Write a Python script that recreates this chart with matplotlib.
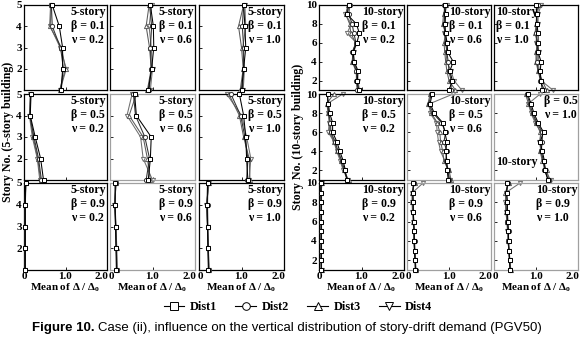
import matplotlib
matplotlib.use("Agg")
import matplotlib.pyplot as plt
import matplotlib.transforms as mtransforms
from matplotlib.lines import Line2D

plt.rcParams['font.family'] = ['Liberation Serif', 'DejaVu Serif']
plt.rcParams['font.weight'] = 'bold'
plt.rcParams['mathtext.fontset'] = 'custom'
plt.rcParams['mathtext.rm'] = 'Liberation Serif:bold'
plt.rcParams['mathtext.it'] = 'Liberation Serif:bold'

# ---------------- data ----------------
series_names = ["Dist1", "Dist2", "Dist3", "Dist4"]
stories5 = [1, 2, 3, 4, 5]
stories10 = [1, 2, 3, 4, 5, 6, 7, 8, 9, 10]
x_ticks = [0, 1.0, 2.0]
x_tick_labels = ["0", "1.0", "2.0"]
y_ticks5 = [2, 3, 4, 5]
y_ticks10 = [2, 4, 6, 8, 10]
betas = ["0.1", "0.5", "0.9"]
nus = ["0.2", "0.6", "1.0"]

# 5-story building: rows = beta, cols = nu; each is [Dist1, Dist2, Dist3, Dist4] by story 1..5
s5_b01_v02 = [[0.90, 0.93, 0.93, 0.85, 0.68], [0.88, 0.95, 0.88, 0.68, 0.66],
              [0.86, 1.00, 0.90, 0.62, 0.64], [0.87, 1.02, 0.87, 0.63, 0.66]]
s5_b01_v06 = [[0.90, 0.98, 1.03, 1.02, 0.95], [0.92, 0.97, 0.95, 0.98, 0.93],
              [0.88, 0.97, 0.93, 0.85, 0.92], [0.95, 1.00, 0.97, 0.92, 0.98]]
s5_b01_v10 = [[1.00, 1.05, 1.10, 1.08, 1.05], [1.02, 1.05, 1.05, 1.02, 1.05],
              [0.97, 1.04, 1.00, 0.93, 1.05], [1.04, 1.07, 1.03, 1.10, 1.08]]
s5_b05_v02 = [[0.47, 0.40, 0.27, 0.15, 0.17], [0.42, 0.35, 0.24, 0.14, 0.16],
              [0.40, 0.33, 0.22, 0.14, 0.16], [0.38, 0.32, 0.20, 0.13, 0.15]]
s5_b05_v06 = [[0.90, 0.95, 0.97, 0.62, 0.58], [0.85, 0.93, 0.82, 0.60, 0.55],
              [0.95, 0.88, 0.78, 0.45, 0.62], [1.00, 0.78, 0.72, 0.40, 0.52]]
s5_b05_v10 = [[1.15, 1.12, 1.10, 1.05, 0.95], [1.12, 1.15, 1.08, 0.98, 0.75],
              [1.20, 1.18, 1.05, 0.95, 0.70], [1.18, 1.22, 1.12, 1.00, 0.65]]
s5_b09_v02 = [[0.03, 0.03, 0.03, 0.03, 0.04], [0.03, 0.03, 0.03, 0.03, 0.04],
              [0.03, 0.03, 0.03, 0.03, 0.04], [0.03, 0.03, 0.03, 0.03, 0.05]]
s5_b09_v06 = [[0.15, 0.14, 0.13, 0.12, 0.12], [0.16, 0.15, 0.14, 0.12, 0.13],
              [0.17, 0.16, 0.14, 0.11, 0.14], [0.16, 0.15, 0.13, 0.10, 0.15]]
s5_b09_v10 = [[0.22, 0.21, 0.20, 0.19, 0.20], [0.23, 0.22, 0.21, 0.20, 0.21],
              [0.24, 0.22, 0.20, 0.18, 0.23], [0.23, 0.21, 0.20, 0.17, 0.24]]

# 10-story building: [Dist1, Dist2, Dist3, Dist4] by story 1..10
s10_b01_v02 = [[0.93, 0.90, 0.92, 0.83, 0.80, 0.89, 0.95, 0.88, 0.66, 0.70],
               [0.90, 0.88, 0.88, 0.80, 0.78, 0.87, 0.82, 0.78, 0.70, 0.72],
               [0.92, 0.90, 0.87, 0.78, 0.80, 0.86, 0.75, 0.72, 0.63, 0.68],
               [0.95, 0.92, 0.90, 0.82, 0.82, 0.88, 0.66, 0.76, 0.62, 0.70]]
s10_b01_v06 = [[1.00, 1.08, 1.02, 1.10, 0.97, 0.95, 0.92, 0.90, 0.92, 0.90],
               [1.05, 1.05, 1.00, 0.98, 0.95, 0.92, 0.90, 0.88, 0.90, 0.88],
               [1.15, 1.00, 0.95, 0.92, 0.90, 0.88, 0.92, 0.85, 0.87, 0.92],
               [1.30, 1.12, 1.05, 0.95, 0.93, 0.97, 0.88, 0.92, 0.90, 0.95]]
s10_b01_v10 = [[1.15, 1.12, 1.10, 1.12, 1.05, 1.05, 1.05, 1.02, 1.02, 1.00],
               [1.20, 1.10, 1.06, 1.02, 1.03, 1.02, 1.00, 1.03, 1.00, 1.05],
               [1.25, 1.15, 1.05, 1.00, 1.00, 1.04, 0.98, 1.00, 1.02, 1.08],
               [1.40, 1.12, 1.08, 1.05, 1.07, 1.00, 1.02, 1.05, 1.05, 1.12]]
s10_b05_v02 = [[0.65, 0.62, 0.57, 0.49, 0.42, 0.32, 0.32, 0.25, 0.22, 0.20],
               [0.67, 0.60, 0.54, 0.45, 0.38, 0.28, 0.27, 0.23, 0.20, 0.20],
               [0.70, 0.58, 0.52, 0.43, 0.36, 0.25, 0.25, 0.22, 0.18, 0.35],
               [0.68, 0.57, 0.50, 0.42, 0.35, 0.22, 0.24, 0.22, 0.20, 0.56]]
s10_b05_v06 = [[0.98, 0.96, 0.95, 0.92, 0.95, 0.90, 0.85, 0.65, 0.55, 0.60],
               [1.00, 0.98, 0.92, 0.95, 0.88, 0.92, 0.82, 0.62, 0.52, 0.58],
               [1.05, 1.00, 0.88, 0.85, 0.80, 0.78, 0.72, 0.58, 0.50, 0.55],
               [1.02, 0.97, 0.90, 0.80, 0.75, 0.72, 0.70, 0.55, 0.55, 1.10]]
s10_b05_v10 = [[1.28, 1.22, 1.20, 1.15, 1.10, 1.18, 1.05, 0.95, 0.88, 0.80],
               [1.30, 1.20, 1.18, 1.12, 1.15, 1.15, 1.02, 0.92, 0.85, 0.78],
               [1.32, 1.25, 1.15, 1.10, 1.12, 1.10, 1.00, 0.90, 0.82, 0.75],
               [1.35, 1.22, 1.16, 1.12, 1.08, 1.12, 0.98, 0.88, 0.82, 1.10]]
s10_b09_v02 = [[0.05, 0.05, 0.05, 0.05, 0.05, 0.05, 0.05, 0.05, 0.04, 0.04],
               [0.05, 0.05, 0.05, 0.05, 0.05, 0.05, 0.05, 0.05, 0.05, 0.05],
               [0.06, 0.05, 0.05, 0.05, 0.05, 0.05, 0.05, 0.05, 0.05, 0.06],
               [0.06, 0.05, 0.05, 0.05, 0.05, 0.05, 0.05, 0.05, 0.05, 0.07]]
s10_b09_v06 = [[0.20, 0.19, 0.18, 0.17, 0.17, 0.16, 0.15, 0.15, 0.14, 0.15],
               [0.21, 0.20, 0.19, 0.18, 0.17, 0.16, 0.15, 0.14, 0.14, 0.16],
               [0.21, 0.20, 0.18, 0.16, 0.17, 0.15, 0.14, 0.13, 0.12, 0.18],
               [0.20, 0.19, 0.18, 0.17, 0.16, 0.15, 0.13, 0.12, 0.13, 0.38]]
s10_b09_v10 = [[0.38, 0.37, 0.36, 0.35, 0.34, 0.33, 0.32, 0.32, 0.30, 0.32],
               [0.39, 0.37, 0.35, 0.34, 0.35, 0.32, 0.30, 0.31, 0.30, 0.33],
               [0.40, 0.38, 0.36, 0.33, 0.33, 0.31, 0.29, 0.28, 0.27, 0.35],
               [0.39, 0.37, 0.35, 0.34, 0.32, 0.31, 0.28, 0.27, 0.28, 0.62]]

grid5 = [[s5_b01_v02, s5_b01_v06, s5_b01_v10],
         [s5_b05_v02, s5_b05_v06, s5_b05_v10],
         [s5_b09_v02, s5_b09_v06, s5_b09_v10]]
grid10 = [[s10_b01_v02, s10_b01_v06, s10_b01_v10],
          [s10_b05_v02, s10_b05_v06, s10_b05_v10],
          [s10_b09_v02, s10_b09_v06, s10_b09_v10]]

# ---------------- styling ----------------
markers = ['s', 'o', '^', 'v']
colors = ['#000000', '#303030', '#5a5a5a', '#6e6e6e']
W, H = 582, 341
fig = plt.figure(figsize=(W / 100, H / 100), dpi=100)

left_cols = [(24, 107), (110, 195), (199, 284)]
right_cols = [(319, 404), (407, 491), (494, 578)]
rows = [(5, 90), (94, 180), (183, 270)]
FS_TICK = 8.0
FS_ANN = 8.6
FS_LAB = 8.0

gray_left = {(1, 1), (2, 1)}
gray_right = {(1, 1), (1, 2), (2, 1), (2, 2)}
shift_left = mtransforms.ScaledTranslation(-6 / 100, 0, fig.dpi_scale_trans)
shift_right = mtransforms.ScaledTranslation(1.5 / 100, 0, fig.dpi_scale_trans)


def make_ax(cx, ry):
    x0, x1 = cx
    y0, y1 = ry
    return fig.add_axes([x0 / W, 1 - y1 / H, (x1 - x0) / W, (y1 - y0) / H])


def style(ax, r, c, stories, yticks, gray):
    ax.set_xlim(0, 2.0)
    ax.set_ylim(1, stories[-1])
    ax.set_xticks(x_ticks)
    ax.set_yticks(yticks)
    ax.tick_params(direction='in', length=2.5, width=0.6, labelsize=FS_TICK, pad=1.5,
                   top=False, right=False)
    if r == 2:
        ax.set_xticklabels(x_tick_labels)
        ticks = ax.xaxis.get_major_ticks()
        lab = ticks[2].label1
        lab.set_transform(lab.get_transform() + shift_left)
        if c > 0:
            lab0 = ticks[0].label1
            lab0.set_transform(lab0.get_transform() + shift_right)
        ax.set_xlabel("Mean of \u0394 / \u0394$_\\mathregular{o}$", fontsize=FS_LAB,
                      fontweight='bold', labelpad=0.5)
    else:
        ax.set_xticklabels([])
    if c == 0:
        ax.set_yticklabels([str(t) for t in yticks])
    else:
        ax.set_yticklabels([])
    for sp in ax.spines.values():
        sp.set_linewidth(0.9)
        sp.set_color('#a0a0a0' if gray else 'black')


def draw(ax, data, stories):
    for k in range(4):
        ax.plot(data[k], stories, color=colors[k], lw=0.75, marker=markers[k],
                ms=3.0, mfc='white', mec=colors[k], mew=0.7, zorder=5 - k,
                clip_on=False)


def ann(ax, x, y, s, ha='right', va='top'):
    ax.text(x, y, s, transform=ax.transAxes, ha=ha, va=va, multialignment='left',
            fontsize=FS_ANN, fontweight='bold', linespacing=1.2, zorder=10)


for r in range(3):
    for c in range(3):
        ax = make_ax(left_cols[c], rows[r])
        draw(ax, grid5[r][c], stories5)
        style(ax, r, c, stories5, y_ticks5, (r, c) in gray_left)
        ann(ax, 0.995, 0.985, "5-story\n\u03b2 = %s\n\u03bd = %s" % (betas[r], nus[c]))

for r in range(3):
    for c in range(3):
        ax = make_ax(right_cols[c], rows[r])
        draw(ax, grid10[r][c], stories10)
        style(ax, r, c, stories10, y_ticks10, (r, c) in gray_right)
        if r == 0 and c == 2:
            ann(ax, 0.02, 0.985, "10-story\n\u03b2 = %s\n\u03bd = %s" % (betas[r], nus[c]),
                ha='left')
        elif r == 1 and c == 2:
            ann(ax, 0.995, 0.985, "\u03b2 = %s\n\u03bd = %s" % (betas[r], nus[c]))
            ann(ax, 0.02, 0.21, "10-story", ha='left', va='center')
        else:
            ann(ax, 0.995, 0.985, "10-story\n\u03b2 = %s\n\u03bd = %s" % (betas[r], nus[c]))

fig.text(8 / W, 1 - 132 / H, "Story No. (5-story building)", rotation=90,
         ha='center', va='center', fontsize=8.6, fontweight='bold')
fig.text(298 / W, 1 - 137 / H, "Story No. (10-story building)", rotation=90,
         ha='center', va='center', fontsize=8.6, fontweight='bold')

handles = [Line2D([], [], color='black', lw=0.8, marker=markers[k], ms=5.5,
                  mfc='white', mec='black', mew=0.7) for k in range(4)]
fig.legend(handles, series_names, loc='center', bbox_to_anchor=(298 / W, 1 - 307 / H),
           ncol=4, frameon=False, handlelength=1.7, handletextpad=0.45,
           columnspacing=1.5, prop={'family': 'Liberation Serif', 'weight': 'bold', 'size': 8.8})

# caption
CAP_FS = 9.55
t1 = fig.text(32 / W, 1 - 328 / H, "Figure 10.", fontsize=CAP_FS, fontweight='bold',
              family='Liberation Sans', ha='left', va='center')
fig.canvas.draw()
bb = t1.get_window_extent(fig.canvas.get_renderer())
fig.text((bb.x1 + 3) / W, 1 - 328 / H,
         "Case (ii), influence on the vertical distribution of story-drift demand (PGV50)",
         fontsize=CAP_FS, fontweight='normal', family='Liberation Sans', ha='left', va='center')

fig.savefig("out.png", dpi=100)
